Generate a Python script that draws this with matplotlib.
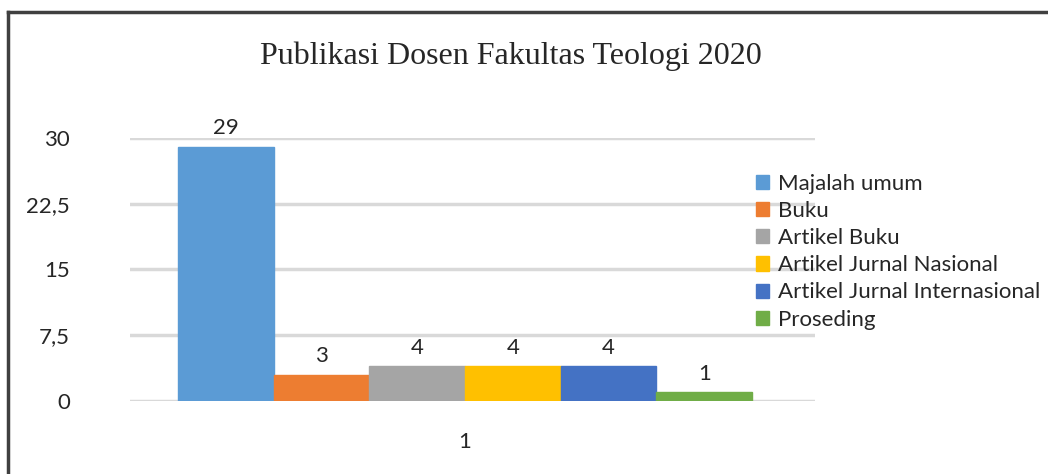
import matplotlib.pyplot as plt
from matplotlib.lines import Line2D

# data
kategori = ["1"]
seri = ["Majalah umum", "Buku", "Artikel Buku", "Artikel Jurnal Nasional",
        "Artikel Jurnal Internasional", "Proseding"]
nilai = [29, 3, 4, 4, 4, 1]
warna = ["#5B9BD5", "#ED7D31", "#A5A5A5", "#FFC000", "#4472C4", "#70AD47"]
yticks = [0, 7.5, 15, 22.5, 30]
ytick_labels = ["0", "7,5", "15", "22,5", "30"]

fig = plt.figure(figsize=(10.48, 4.74), dpi=100)
ax = fig.add_axes([0.124, 0.154, 0.654, 0.555])

w = 0.15
for i, (nama, v, c) in enumerate(zip(seri, nilai, warna)):
    x = 0 + (i - 2.5) * w
    b = ax.bar(x, v, width=w, color=c, edgecolor=c, label=nama, zorder=3)
    ax.bar_label(b, labels=[str(v)], padding=6, fontsize=16,
                 color="#262626", family="Lato")

ax.set_xlim(-0.525, 0.549)
ax.set_ylim(0, 30)
ax.set_xticks([0])
ax.set_xticklabels(kategori, fontsize=16, family="Lato", color="#262626")
ax.set_yticks(yticks)
ax.set_yticklabels(ytick_labels, fontsize=16, family="Lato", color="#262626")
ax.tick_params(axis="y", length=0, pad=43)
ax.tick_params(axis="x", length=0, pad=22)
ax.grid(axis="y", color="#D9D9D9", linewidth=2.5, zorder=0)
for s in ax.spines.values():
    s.set_visible(False)

fig.text(0.487, 0.882, "Publikasi Dosen Fakultas Teologi 2020",
         family="Liberation Serif", fontsize=23, ha="center", va="center",
         color="#262626")

ax.legend(loc="upper left", bbox_to_anchor=(0.702, 0.675),
          bbox_transform=fig.transFigure, frameon=False,
          prop={"family": "Lato", "size": 16}, handlelength=0.6,
          handleheight=0.6, handletextpad=0.4, labelspacing=0.32,
          labelcolor="#262626")

# bingkai
fig.add_artist(Line2D([0.008, 0.008], [0, 0.975], color="#404040",
                      linewidth=2.5, transform=fig.transFigure))
fig.add_artist(Line2D([0.008, 1.0], [0.975, 0.975], color="#404040",
                      linewidth=2.5, transform=fig.transFigure))

fig.savefig("out.png", dpi=100)
